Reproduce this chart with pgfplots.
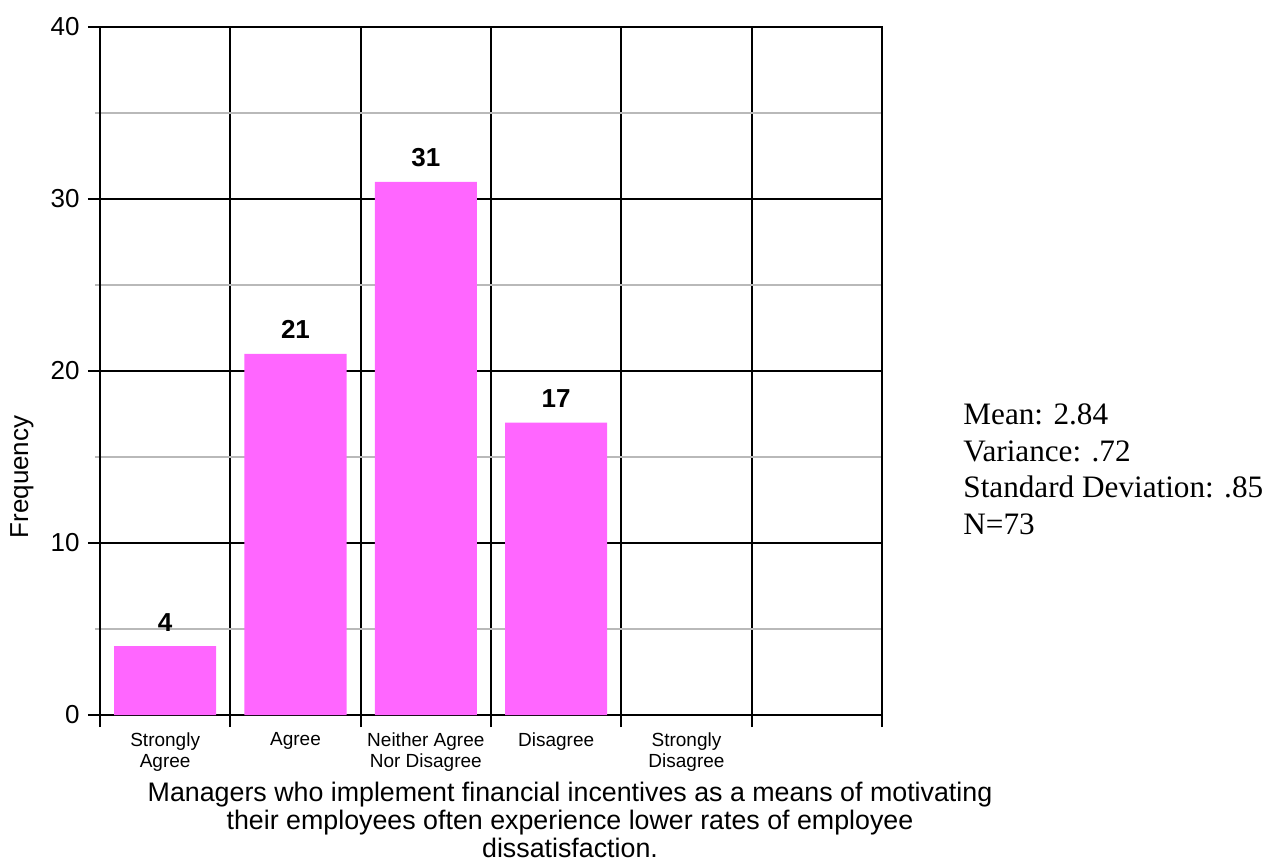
\documentclass[border=0pt]{standalone}
\usepackage{pgfplots}
\pgfplotsset{compat=1.18}
\usepackage{fontspec}
\setmainfont{Liberation Sans}
\newfontfamily\timesfont{Liberation Serif}
\definecolor{barpink}{RGB}{255,102,255}
\definecolor{gridgray}{RGB}{185,185,185}
\begin{document}
\begin{tikzpicture}
\path[use as bounding box] (0,0) rectangle (634pt,433.5pt);
\begin{axis}[
  at={(50pt,76pt)}, anchor=south west,
  width=391pt, height=344pt, scale only axis,
  xmin=0, xmax=6, ymin=0, ymax=40,
  axis line style={black, line width=1pt},
  tick align=outside,
  xtick pos=left, ytick pos=left,
  xtick={0,1,2,3,4,5,6},
  xticklabels={},
  major tick length=6pt,
  major tick style={black, line width=1pt},
  minor tick length=2.5pt,
  minor tick style={gridgray, line width=0.8pt},
  xmajorgrids, ymajorgrids, yminorgrids,
  major grid style={black, line width=1pt},
  minor grid style={gridgray, line width=0.8pt},
  ytick={0,10,20,30,40},
  minor ytick={5,15,25,35},
  /pgf/number format/assume math mode=true,
  yticklabel style={font=\fontsize{13}{15}\selectfont, inner sep=0pt, xshift=-4pt},
  extra x ticks={0.5,1.5,2.5,3.5,4.5},
  extra x tick labels={{Strongly\\Agree},{Agree},{Neither Agree\\Nor Disagree},{Disagree},{Strongly\\Disagree}},
  extra x tick style={major tick length=0pt, grid=none,
    tick label style={font=\fontsize{9.5}{10.5}\selectfont, align=center, anchor=north, inner sep=0pt, yshift=-8.5pt}},
  ybar, bar width=51pt,
  nodes near coords,
  every node near coord/.append style={font=\fontsize{13}{15}\selectfont\bfseries, anchor=base, inner sep=0pt, yshift=7.5pt, black},
  clip=false,
]
\addplot[fill=barpink, draw=none] coordinates {(0.5,4) (1.5,21) (2.5,31) (3.5,17)};
\end{axis}
\node[rotate=90, font=\fontsize{13}{15}\selectfont, inner sep=0pt] at (11pt,195pt) {Frequency};
\node[align=center, font=\fontsize{13.4}{14}\selectfont, anchor=base, inner sep=0pt] at (285pt,5pt) {Managers who implement financial incentives as a means of motivating\\their employees often experience lower rates of employee\\dissatisfaction.};
\begin{scope}[every node/.style={anchor=base west, inner sep=0pt, font=\timesfont\fontsize{15.6}{17}\selectfont}]
\node at (481.5pt,221pt) {Mean: 2.84};
\node at (481.5pt,202.5pt) {Variance: .72};
\node at (481.5pt,184.5pt) {Standard Deviation: .85};
\node at (481.5pt,166pt) {N=73};
\end{scope}
\end{tikzpicture}
\end{document}
